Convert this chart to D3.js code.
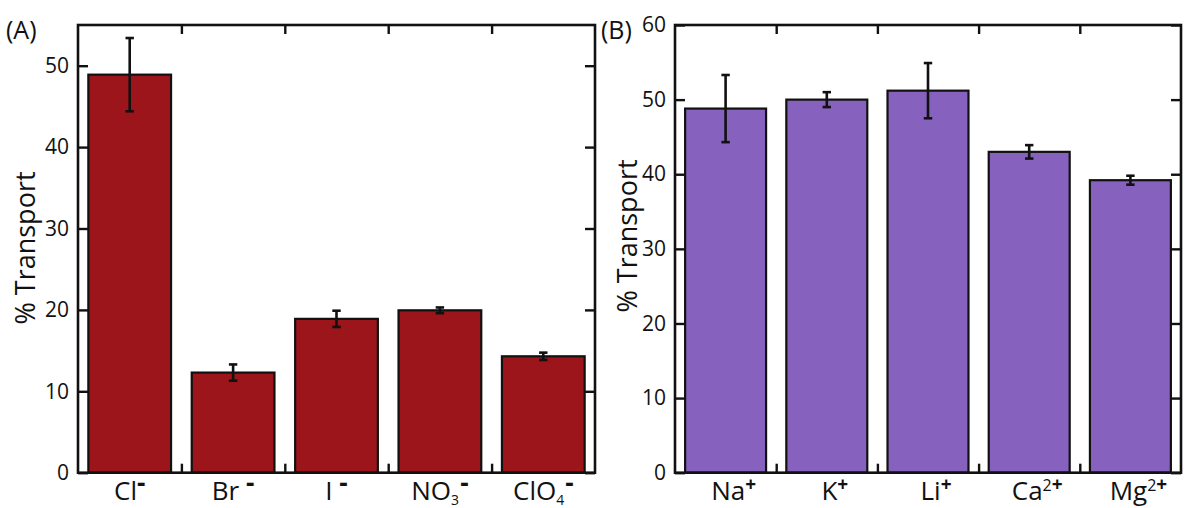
<!DOCTYPE html>
<html>
<head>
<meta charset="utf-8">
<script src="https://cdn.jsdelivr.net/npm/d3@7"></script>
<style>
  html, body { margin: 0; padding: 0; background: #fff; }
  svg text { font-family: "Open Sans", "Noto Sans", sans-serif; fill: #111; }
</style>
</head>
<body>
<svg id="chart" width="1188" height="508"></svg>
<script>
// ---- data ----
// labels: "_x" = subscript, "^x" = superscript charge
const categoriesA = ["Cl^-", "Br ^-", "I ^-", "NO_3^-", "ClO_4^-"];
const valuesA = [48.9, 12.3, 18.9, 19.95, 14.3];
const errorsA = [4.5, 1.0, 1.0, 0.35, 0.45];

const categoriesB = ["Na^+", "K^+", "Li^+", "Ca^2+", "Mg^2+"];
const valuesB = [48.8, 50.0, 51.2, 43.0, 39.2];
const errorsB = [4.5, 1.0, 3.7, 0.9, 0.6];

const yTicksA = [0, 10, 20, 30, 40, 50];
const yTicksB = [0, 10, 20, 30, 40, 50, 60];

const svg = d3.select("#chart");

function drawPanel(opts) {
  const { x0, x1, y0, y1, yMax, cats, vals, errs, ticks, color, tag, tagX, titleX, titleY, labelShift } = opts;
  const g = svg.append("g");

  const x = d3.scaleBand().domain(cats).range([x0, x1]).paddingInner(0.2).paddingOuter(0.1);
  const xb = d3.scaleLinear().domain([0, cats.length]).range([x0, x1]);
  const y = d3.scaleLinear().domain([0, yMax]).range([y1, y0]);

  // bars
  g.selectAll("rect.bar").data(cats).join("rect")
    .attr("class", "bar")
    .attr("x", d => x(d))
    .attr("y", (d, i) => y(vals[i]))
    .attr("width", x.bandwidth())
    .attr("height", (d, i) => y(0) - y(vals[i]))
    .attr("fill", color)
    .attr("stroke", "#111")
    .attr("stroke-width", 2.2);

  // error bars
  const capW = 4.2;
  const eb = g.selectAll("g.err").data(cats).join("g").attr("class", "err")
    .attr("stroke", "#111").attr("stroke-width", 2.6).attr("fill", "none");
  eb.append("line")
    .attr("x1", d => x(d) + x.bandwidth() / 2).attr("x2", d => x(d) + x.bandwidth() / 2)
    .attr("y1", (d, i) => y(vals[i] + errs[i])).attr("y2", (d, i) => y(vals[i] - errs[i]));
  eb.append("line")
    .attr("x1", d => x(d) + x.bandwidth() / 2 - capW).attr("x2", d => x(d) + x.bandwidth() / 2 + capW)
    .attr("y1", (d, i) => y(vals[i] + errs[i])).attr("y2", (d, i) => y(vals[i] + errs[i]));
  eb.append("line")
    .attr("x1", d => x(d) + x.bandwidth() / 2 - capW).attr("x2", d => x(d) + x.bandwidth() / 2 + capW)
    .attr("y1", (d, i) => y(vals[i] - errs[i])).attr("y2", (d, i) => y(vals[i] - errs[i]));

  // left axis (ticks inward)
  const left = g.append("g").attr("transform", `translate(${x0},0)`)
    .call(d3.axisLeft(y).tickValues(ticks).tickSize(-10).tickPadding(9).tickFormat(d3.format("d")));
  // right axis (ticks inward, no labels)
  const right = g.append("g").attr("transform", `translate(${x1},0)`)
    .call(d3.axisRight(y).tickValues(ticks).tickSize(-10).tickFormat(""));
  // top boundary ticks
  const top = g.append("g").attr("transform", `translate(0,${y0})`)
    .call(d3.axisTop(xb).tickValues(d3.range(1, cats.length)).tickSize(-9).tickFormat(""));
  // bottom boundary ticks
  const bot = g.append("g").attr("transform", `translate(0,${y1})`)
    .call(d3.axisBottom(xb).tickValues(d3.range(1, cats.length)).tickSize(-9).tickFormat(""));

  [left, right, top, bot].forEach(a => {
    a.select(".domain").remove();
    a.selectAll(".tick line").attr("stroke", "#111").attr("stroke-width", 2.4);
  });
  left.selectAll(".tick text").attr("font-size", 21).attr("fill", "#111")
    .attr("font-family", "'Open Sans', sans-serif");

  // frame
  g.append("rect").attr("x", x0).attr("y", y0).attr("width", x1 - x0).attr("height", y1 - y0)
    .attr("fill", "none").attr("stroke", "#111").attr("stroke-width", 2.6);

  // category labels with sub/superscripts
  const lab = g.selectAll("text.cat").data(cats).join("text")
    .attr("class", "cat")
    .attr("x", d => x(d) + x.bandwidth() / 2 + labelShift)
    .attr("y", y1 + 27)
    .attr("text-anchor", "middle")
    .attr("font-size", 26);
  lab.each(function (d) {
    const t = d3.select(this);
    const m = d.match(/^([^_^]*)(?:_(\d))?(?:\^(.*))?$/);
    t.append("tspan").text(m[1]);
    if (m[2]) {
      t.append("tspan").attr("font-size", 14).attr("dy", 5).text(m[2]);
    }
    if (m[3]) {
      const charge = m[3];
      const num = charge.replace(/[+-]/, "");
      const sign = charge.replace(/\d/, "");
      const base = m[2] ? -5 : 0;
      if (num) {
        t.append("tspan").attr("font-size", 16).attr("dy", base - 9).text(num);
        t.append("tspan").attr("font-size", 19).attr("font-weight", "bold").attr("dy", 0).text(sign);
      } else if (sign === "-") {
        t.append("tspan").attr("font-size", 26).attr("font-weight", "bold")
          .attr("dy", base - 8).attr("dx", m[2] ? 1 : 0).text(sign);
      } else {
        t.append("tspan").attr("font-size", 19).attr("font-weight", "bold")
          .attr("dy", base - 9).text(sign);
      }
    }
  });

  // panel tag
  g.append("text").attr("x", tagX).attr("y", 39).attr("font-size", 25).text(tag);

  // y-axis title
  g.append("text")
    .attr("transform", `translate(${titleX},${titleY}) rotate(-90)`)
    .attr("text-anchor", "middle")
    .attr("font-size", 27)
    .text("% Transport");
}

drawPanel({
  x0: 78, x1: 595, y0: 25, y1: 472.7, yMax: 55,
  cats: categoriesA, vals: valuesA, errs: errorsA, ticks: yTicksA,
  color: "#9b151a", tag: "(A)", tagX: 6, titleX: 35, titleY: 248, labelShift: 0
});
drawPanel({
  x0: 675, x1: 1181, y0: 25, y1: 472.7, yMax: 60,
  cats: categoriesB, vals: valuesB, errs: errorsB, ticks: yTicksB,
  color: "#8661bd", tag: "(B)", tagX: 601, titleX: 637, titleY: 236, labelShift: 8
});
</script>
</body>
</html>
